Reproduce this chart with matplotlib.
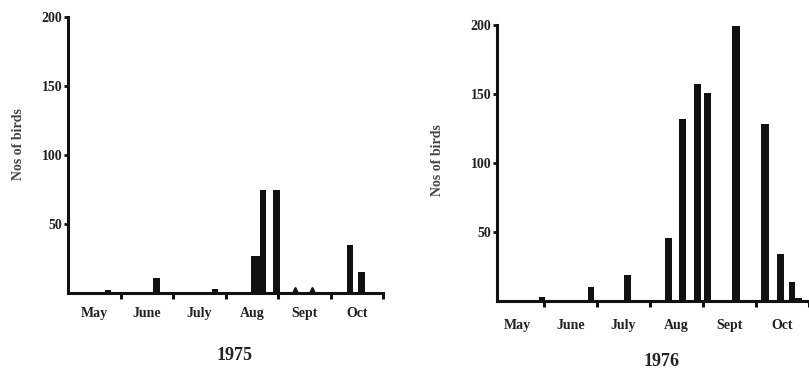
import matplotlib
matplotlib.use("Agg")
import matplotlib.pyplot as plt

months = ['May', 'June', 'July', 'Aug', 'Sept', 'Oct']
yticks = [50, 100, 150, 200]

# 1975 (x in months since 1 May)
pos75 = [0.76, 1.68, 2.80, 3.59, 3.715, 3.97, 5.37, 5.59]
val75 = [2, 11, 3, 27, 75, 75, 35, 15]
wid75 = [0.11, 0.14, 0.11, 0.19, 0.10, 0.13, 0.12, 0.12]
tri75_pos = [4.32, 4.65]
tri75_val = [2, 2]

# 1976
pos76 = [0.96, 1.89, 2.58, 3.34, 3.62, 3.89, 4.09, 4.62, 5.17, 5.47, 5.68, 5.80]
val76 = [3, 10, 19, 46, 132, 157, 151, 199, 128, 34, 14, 2]
wid76 = [0.12, 0.12, 0.13, 0.13, 0.13, 0.13, 0.13, 0.14, 0.14, 0.13, 0.12, 0.12]

W, H = 809, 374
fig = plt.figure(figsize=(W / 100, H / 100), dpi=100)
fig.patch.set_facecolor('white')

serif = ['Liberation Serif', 'DejaVu Serif']
ink = '#111111'


def style(ax, xlim, xlabel_pad):
    ax.set_ylim(0, 200)
    ax.set_xlim(*xlim)
    for s in ['top', 'right']:
        ax.spines[s].set_visible(False)
    for s in ['left', 'bottom']:
        ax.spines[s].set_linewidth(2.2)
        ax.spines[s].set_color(ink)
    ax.set_yticks(yticks)
    ax.set_yticklabels([str(v) for v in yticks], family=serif, fontsize=10,
                       fontweight='bold', color='#222222')
    ax.tick_params(axis='y', direction='out', length=3, width=2, pad=1, color=ink)
    ax.set_xticks([1, 2, 3, 4, 5, 6])
    ax.set_xticklabels([])
    ax.tick_params(axis='x', which='major', direction='out', length=4, width=2.2, color=ink)
    ax.set_xticks([0.5 + i for i in range(6)], minor=True)
    ax.set_xticklabels(months, minor=True, family=serif, fontsize=10,
                       fontweight='bold', color='#222222')
    ax.tick_params(axis='x', which='minor', length=0, pad=xlabel_pad)
    ax.set_facecolor('none')


ax1 = fig.add_axes([68 / W, 1 - 293 / H, 315 / W, 276 / H])
ax1.bar(pos75, val75, width=wid75, color=ink, linewidth=0)
ax1.plot(tri75_pos, tri75_val, linestyle='none', marker='^', markersize=4, color=ink,
         clip_on=False)
style(ax1, (0, 6), 10)
ax1.set_ylabel('Nos of birds', family=serif, fontsize=10, fontweight='bold',
               color='#444444', labelpad=4)
ax1.yaxis.set_label_coords(-43 / 315, 0.54)
fig.text(235 / W, 1 - 355 / H, '1975', family=serif, fontsize=13, fontweight='bold',
         color='#222222', ha='center', va='center')

ax2 = fig.add_axes([497 / W, 1 - 301 / H, 312 / W, 276 / H])
ax2.bar(pos76, val76, width=wid76, color=ink, linewidth=0)
style(ax2, (0.11, 6.0), 13)
ax2.set_ylabel('Nos of birds', family=serif, fontsize=10, fontweight='bold',
               color='#444444')
ax2.yaxis.set_label_coords(-53 / 312, 0.51)
fig.text(662 / W, 1 - 362 / H, '1976', family=serif, fontsize=13, fontweight='bold',
         color='#222222', ha='center', va='center')

fig.savefig('out.png', dpi=100, facecolor='white')
